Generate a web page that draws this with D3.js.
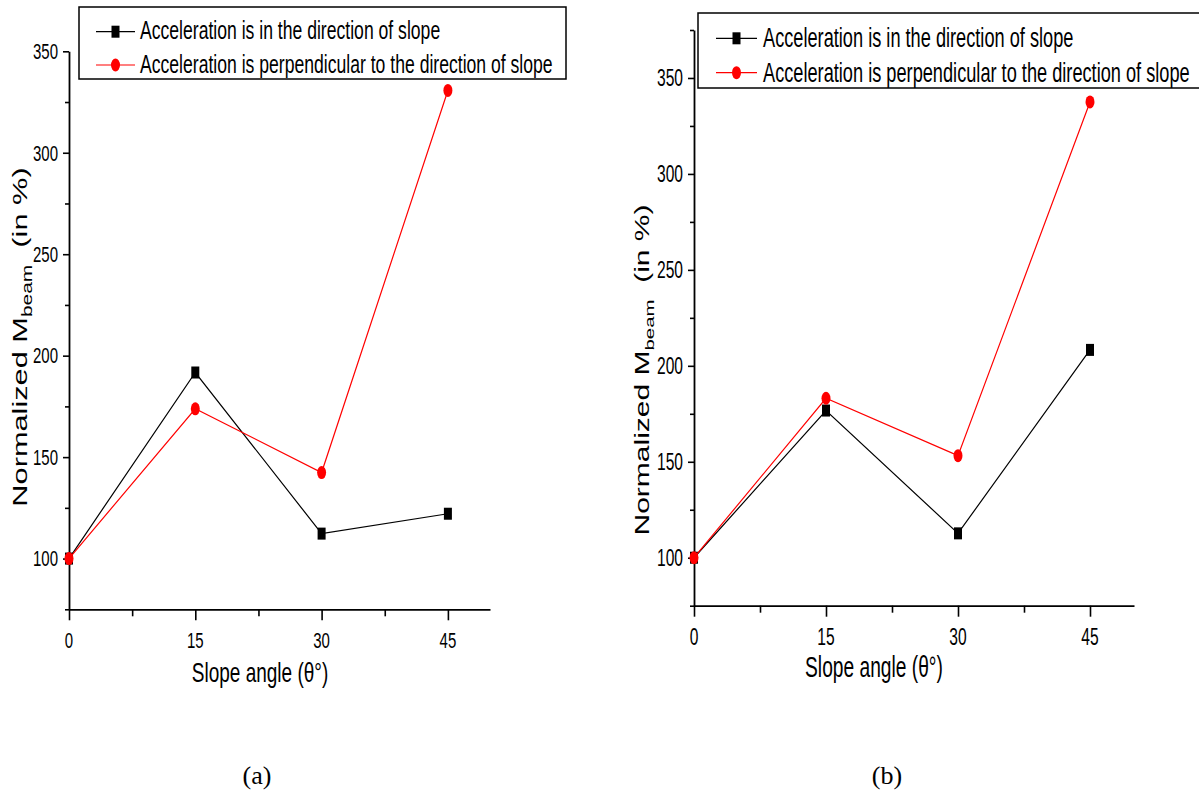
<!DOCTYPE html>
<html><head><meta charset="utf-8">
<script src="https://cdn.jsdelivr.net/npm/d3@7"></script>
<style>body{margin:0;background:#fff} svg{display:block}</style>
</head><body>
<svg id="chart" width="1199" height="792"></svg>
<script>
// ---------------- data ----------------
const angles = [0, 15, 30, 45];
const seriesNames = [
  "Acceleration is in the direction of slope",
  "Acceleration is perpendicular to the direction of slope"
];
const panelA_inDirection = [100, 191.7, 112.3, 122.1];
const panelA_perpendicular = [100, 173.8, 142.4, 330.7];
const panelB_inDirection = [100, 176.7, 112.7, 208.3];
const panelB_perpendicular = [100, 183.1, 153.2, 337.5];
const xMajorTicks = [0, 15, 30, 45];
const xMinorTicks = [7.5, 22.5, 37.5];
const yMajorTicks = [100, 150, 200, 250, 300, 350];
const yMinorTicksA = [75, 125, 175, 225, 275, 325];
const yMinorTicksB = [75, 125, 175, 225, 275, 325, 375];
const xTitle = "Slope angle (θ°)";
const yTitleMain = "Normalized M";
const yTitleSub = "beam";
const yTitleTail = "\u00a0\u00a0(in %)";
const captions = ["(a)", "(b)"];

// ---------------- drawing ----------------
const svg = d3.select("#chart");
const FONT = "'Liberation Sans', Arial, sans-serif";
const STRETCH = 1.5;

function stretchedText(g, x, y, str, size, anchor) {
  return g.append("text")
    .attr("transform", `translate(${x},${y}) scale(1,${STRETCH})`)
    .attr("font-family", FONT).attr("font-size", size)
    .attr("text-anchor", anchor).attr("fill", "#000").text(str);
}

function drawPanel(cfg) {
  const x = d3.scaleLinear().domain([0, 50]).range([cfg.left, cfg.right]);
  const y = d3.scaleLinear().domain(cfg.yDomain).range([cfg.bottom, cfg.top]);
  const g = svg.append("g");

  // y axis major
  const yAx = g.append("g").attr("transform", `translate(${cfg.left},0)`)
    .call(d3.axisLeft(y).tickValues(yMajorTicks).tickSize(6).tickSizeOuter(0).tickFormat(""));
  yAx.select(".domain").attr("stroke-width", 1.8);
  yAx.selectAll(".tick line").attr("stroke-width", 1.6);
  // y axis minor
  const yMin = g.append("g").attr("transform", `translate(${cfg.left},0)`)
    .call(d3.axisLeft(y).tickValues(cfg.yMinor).tickSize(4).tickSizeOuter(0).tickFormat(""));
  yMin.select(".domain").remove();
  yMin.selectAll(".tick line").attr("stroke-width", 1.6);

  // x axis major
  const xAx = g.append("g").attr("transform", `translate(0,${cfg.bottom})`)
    .call(d3.axisBottom(x).tickValues(xMajorTicks).tickSize(11).tickSizeOuter(0).tickFormat(""));
  xAx.select(".domain").attr("stroke-width", 1.8);
  xAx.selectAll(".tick line").attr("stroke-width", 1.6);
  const xMin = g.append("g").attr("transform", `translate(0,${cfg.bottom})`)
    .call(d3.axisBottom(x).tickValues(xMinorTicks).tickSize(7).tickSizeOuter(0).tickFormat(""));
  xMin.select(".domain").remove();
  xMin.selectAll(".tick line").attr("stroke-width", 1.6);

  // tick labels
  yMajorTicks.forEach(v => stretchedText(g, cfg.left - 11, y(v) + 7.8, String(v), cfg.tickSize, "end"));
  xMajorTicks.forEach(v => stretchedText(g, x(v), cfg.bottom + 39, String(v), cfg.tickSize, "middle"));

  // axis titles
  stretchedText(g, cfg.xTitleX, cfg.xTitleY, xTitle, cfg.xTitleSize, "middle");
  const yt = g.append("text")
    .attr("transform", `translate(${cfg.yTitleX},${cfg.yTitleY}) rotate(-90) scale(${STRETCH},1)`)
    .attr("font-family", FONT).attr("font-size", cfg.yTitleSize)
    .attr("text-anchor", "middle").attr("fill", "#000");
  yt.append("tspan").text(yTitleMain);
  yt.append("tspan").attr("font-size", cfg.yTitleSize * 0.68).attr("dy", 5).text(yTitleSub);
  yt.append("tspan").attr("dy", -5).text(yTitleTail);

  // series
  const line = d3.line().x(d => x(d[0])).y(d => y(d[1]));
  const blackPts = angles.map((a, i) => [a, cfg.inDir[i]]);
  const redPts = angles.map((a, i) => [a, cfg.perp[i]]);
  g.append("path").attr("d", line(blackPts)).attr("fill", "none").attr("stroke", "#000").attr("stroke-width", 1.2);
  g.selectAll(".sq").data(blackPts).enter().append("rect")
    .attr("x", d => x(d[0]) - 4).attr("y", d => y(d[1]) - 6)
    .attr("width", 8).attr("height", 12).attr("fill", "#000");
  g.append("path").attr("d", line(redPts)).attr("fill", "none").attr("stroke", "#ff0000").attr("stroke-width", 1.2);
  g.selectAll(".ci").data(redPts).enter().append("ellipse")
    .attr("cx", d => x(d[0])).attr("cy", d => y(d[1]))
    .attr("rx", 4.5).attr("ry", 6.5).attr("fill", "#ff0000");

  // legend
  const L = cfg.legend;
  g.append("rect").attr("x", L.x0).attr("y", L.y0).attr("width", L.x1 - L.x0).attr("height", L.y1 - L.y0)
    .attr("fill", "#fff").attr("stroke", "#000").attr("stroke-width", 1.5);
  const rows = [
    {name: seriesNames[0], color: "#000", shape: "sq", ly: L.rowY[0], by: L.baseY[0]},
    {name: seriesNames[1], color: "#ff0000", shape: "ci", ly: L.rowY[1], by: L.baseY[1]}
  ];
  rows.forEach(r => {
    g.append("line").attr("x1", L.lineX0).attr("x2", L.lineX1).attr("y1", r.ly).attr("y2", r.ly)
      .attr("stroke", r.color).attr("stroke-width", 1.2);
    const mx = (L.lineX0 + L.lineX1) / 2;
    if (r.shape === "sq") {
      g.append("rect").attr("x", mx - 4).attr("y", r.ly - 6).attr("width", 8).attr("height", 12).attr("fill", r.color);
    } else {
      g.append("ellipse").attr("cx", mx).attr("cy", r.ly).attr("rx", 4.5).attr("ry", 6.5).attr("fill", r.color);
    }
    stretchedText(g, L.textX, r.by, r.name, L.fontSize, "start");
  });

  // caption
  g.append("text").attr("x", cfg.capX).attr("y", 784)
    .attr("font-family", "'Liberation Serif', 'Times New Roman', serif").attr("font-size", 26)
    .attr("text-anchor", "middle").attr("fill", "#000").text(cfg.caption);
}

drawPanel({
  left: 69, right: 490, top: 51.3, bottom: 609.3, yDomain: [75, 350], yMinor: yMinorTicksA,
  inDir: panelA_inDirection, perp: panelA_perpendicular,
  tickSize: 15, xTitleX: 260, xTitleY: 681.7, xTitleSize: 19,
  yTitleX: 27.3, yTitleY: 337, yTitleSize: 20.5,
  legend: {x0: 79, y0: 7, x1: 566, y1: 79, lineX0: 96, lineX1: 135, textX: 140,
           rowY: [31.7, 65], baseY: [39.3, 72.7], fontSize: 17.6},
  capX: 257, caption: captions[0]
});
drawPanel({
  left: 694, right: 1134, top: 30, bottom: 605.7, yDomain: [75, 375], yMinor: yMinorTicksB,
  inDir: panelB_inDirection, perp: panelB_perpendicular,
  tickSize: 15.6, xTitleX: 874, xTitleY: 676.7, xTitleSize: 19.2,
  yTitleX: 649.3, yTitleY: 370, yTitleSize: 20,
  legend: {x0: 698, y0: 13, x1: 1210, y1: 88, lineX0: 716, lineX1: 757, textX: 763,
           rowY: [38.3, 72.7], baseY: [46.7, 81.7], fontSize: 18.2},
  capX: 887, caption: captions[1]
});
</script>
</body></html>
